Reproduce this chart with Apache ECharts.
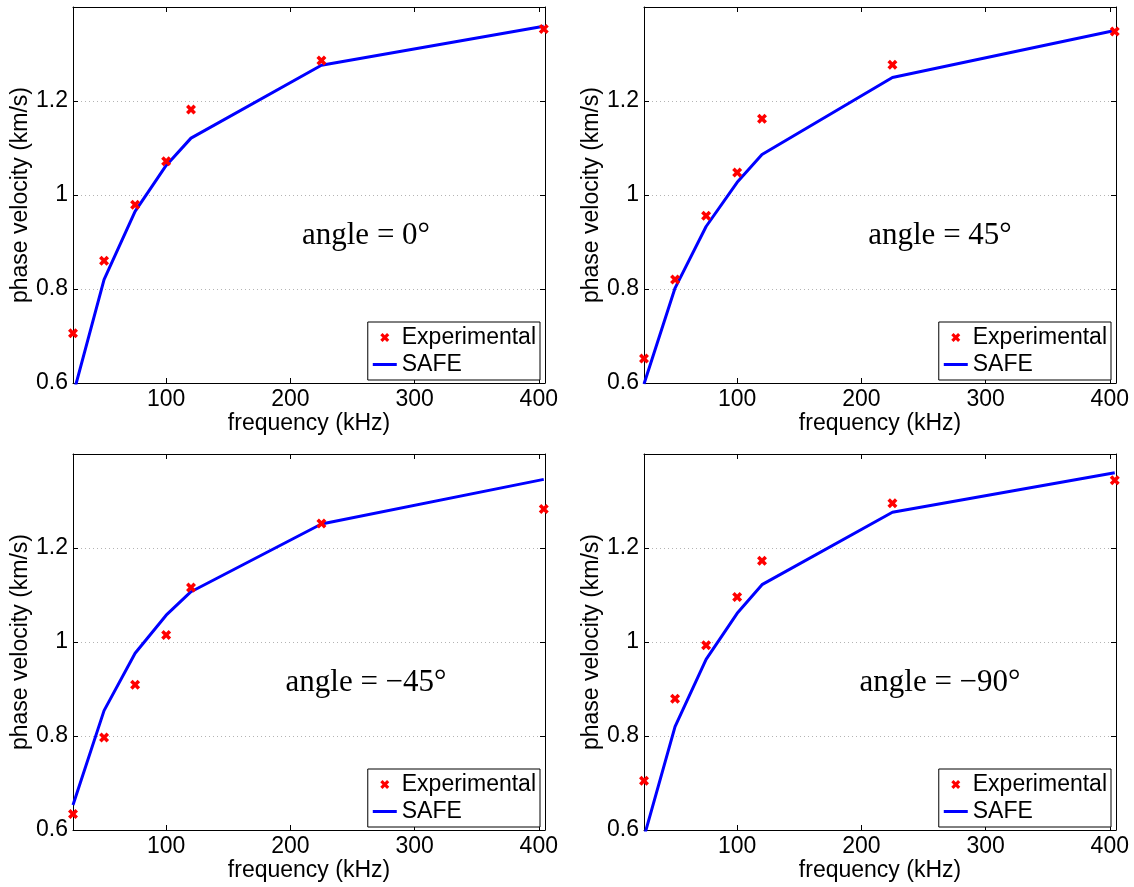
<!DOCTYPE html>
<html><head><meta charset="utf-8">
<script src="https://cdn.jsdelivr.net/npm/echarts@6/dist/echarts.min.js"></script>
<style>html,body{margin:0;padding:0;background:#fff}#c{width:1134px;height:887px}</style>
</head><body><div id="c"></div>
<script>
// ---- data ----
const freq = [25, 50, 75, 100, 120, 225, 404];           // kHz
const exp0    = [0.706, 0.860, 0.979, 1.072, 1.182, 1.286, 1.353];
const safe0   = [0.574, 0.820, 0.965, 1.063, 1.121, 1.276, 1.359];
const exp45   = [0.652, 0.820, 0.956, 1.048, 1.162, 1.277, 1.348];
const safe45  = [0.598, 0.802, 0.933, 1.027, 1.086, 1.250, 1.350];
const expM45  = [0.634, 0.797, 0.909, 1.015, 1.116, 1.252, 1.283];
const safeM45 = [0.653, 0.854, 0.976, 1.057, 1.107, 1.251, 1.346];
const expM90  = [0.705, 0.879, 0.993, 1.096, 1.173, 1.295, 1.344];
const safeM90 = [0.585, 0.820, 0.963, 1.061, 1.122, 1.276, 1.360];
const xTickValues = [100, 200, 300, 400];
const angleLabels = ['angle = 0°', 'angle = 45°', 'angle = \u221245°', 'angle = \u221290°'];

// ---- chart ----
const FONT = '"Liberation Sans", Arial, Helvetica, sans-serif';
const SERIF = '"Liberation Serif", "Times New Roman", serif';
const XICON = 'path://M0,2.5 L2.5,0 L5,2.5 L7.5,0 L10,2.5 L7.5,5 L10,7.5 L7.5,10 L5,7.5 L2.5,10 L0,7.5 L2.5,5 Z';
const LINEICON = 'path://M0,0 H24 V3 H0 Z';
const panels = [
  {exp: exp0, safe: safe0},
  {exp: exp45, safe: safe45},
  {exp: expM45, safe: safeM45},
  {exp: expM90, safe: safeM90}
];
const gridPos = [[73, 7], [644, 7], [73, 454], [644, 454]];
const GW = 472, GH = 376, W = 1134, H = 887;
const X_MIN = 25, X_MAX = 405, Y_MIN = 0.6, Y_MAX = 1.4;

const grid = [], xAxis = [], yAxis = [], series = [], legend = [], graphic = [];
const axisLine = {show: true, onZero: false, lineStyle: {color: '#000', width: 1}};
const tick = {show: true, inside: true, length: 5, lineStyle: {color: '#000', width: 1}};

panels.forEach((p, i) => {
  const [gl, gt] = gridPos[i];
  grid.push({left: gl, top: gt, width: GW, height: GH, containLabel: false});
  xAxis.push({
    type: 'value', gridIndex: i, position: 'bottom', min: X_MIN, max: X_MAX,
    name: 'frequency (kHz)', nameLocation: 'middle', nameGap: 28,
    nameTextStyle: {fontFamily: FONT, fontSize: 23, color: '#000'},
    axisLine, axisTick: Object.assign({customValues: xTickValues}, tick),
    axisLabel: {customValues: xTickValues, fontFamily: FONT, fontSize: 23, color: '#000', margin: 5},
    splitLine: {show: false}
  });
  xAxis.push({
    type: 'value', gridIndex: i, position: 'top', min: X_MIN, max: X_MAX,
    axisLine, axisTick: Object.assign({customValues: xTickValues}, tick),
    axisLabel: {show: false}, splitLine: {show: false}
  });
  yAxis.push({
    type: 'value', gridIndex: i, position: 'left', min: Y_MIN, max: Y_MAX, interval: 0.2,
    name: 'phase velocity (km/s)', nameLocation: 'middle', nameGap: 38,
    nameTextStyle: {fontFamily: FONT, fontSize: 23, color: '#000'},
    axisLine, axisTick: tick,
    axisLabel: {fontFamily: FONT, fontSize: 23, color: '#000', margin: 5,
      formatter: v => (v > 1.3 ? '' : String(Math.round(v * 10) / 10))},
    splitLine: {show: true, lineStyle: {color: '#b4b4b4', type: [1, 3], width: 1}}
  });
  yAxis.push({
    type: 'value', gridIndex: i, position: 'right', min: Y_MIN, max: Y_MAX, interval: 0.2,
    axisLine, axisTick: tick, axisLabel: {show: false}, splitLine: {show: false}
  });
  series.push({
    type: 'scatter', name: 'Experimental', xAxisIndex: 2 * i, yAxisIndex: 2 * i,
    data: freq.map((f, k) => [f, p.exp[k]]),
    symbol: XICON, symbolSize: 10, clip: false, z: 4,
    itemStyle: {color: '#ff0000', opacity: 1}
  });
  series.push({
    type: 'line', name: 'SAFE', xAxisIndex: 2 * i, yAxisIndex: 2 * i,
    data: freq.map((f, k) => [f, p.safe[k]]),
    symbol: 'none', showSymbol: false, clip: true, z: 3, color: '#0000ff',
    lineStyle: {color: '#0000ff', width: 3}, itemStyle: {color: '#0000ff'}
  });
  legend.push({
    orient: 'vertical',
    right: W - (gl + GW - 5), bottom: H - (gt + GH - 3),
    itemWidth: 24, itemHeight: 9, itemGap: 4,
    padding: [4, 4, 4, 5],
    borderColor: '#000', borderWidth: 1, borderRadius: 0, backgroundColor: '#fff',
    textStyle: {fontFamily: FONT, fontSize: 23, color: '#000'},
    selectedMode: false, z: 10,
    data: [
      {name: 'Experimental', icon: XICON, itemStyle: {color: '#ff0000', borderWidth: 0, opacity: 1}},
      {name: 'SAFE', icon: LINEICON, itemStyle: {color: '#0000ff', borderWidth: 0}}
    ]
  });
  graphic.push({
    type: 'text', x: gl + (i % 2 === 0 ? 293 : 296), y: gt + 229, z: 10,
    style: {text: angleLabels[i], fontFamily: SERIF, fontSize: 31, fill: '#000',
      textAlign: 'center', textVerticalAlign: 'middle'}
  });
});

const chart = echarts.init(document.getElementById('c'), null, {renderer: 'canvas'});
chart.setOption({
  backgroundColor: '#fff', animation: false,
  grid, xAxis, yAxis, series, legend, graphic
});
</script>
</body></html>
